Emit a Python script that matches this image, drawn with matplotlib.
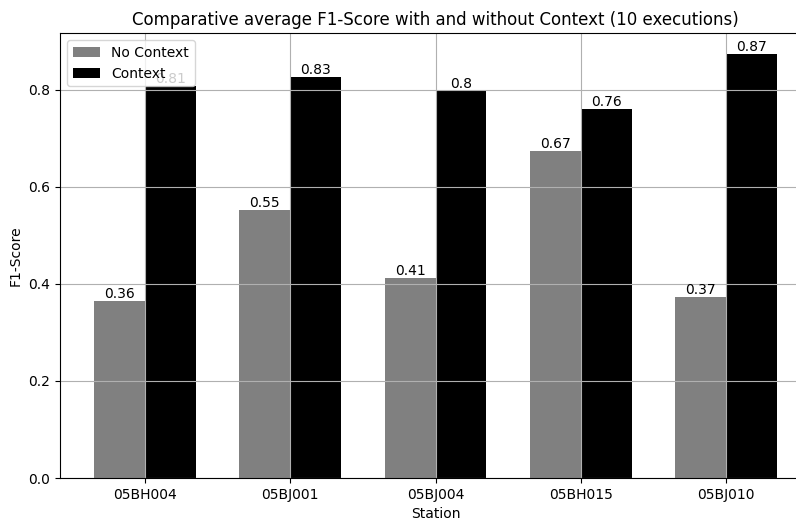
import numpy as np
import matplotlib.pyplot as plt

stations = ["05BH004", "05BJ001", "05BJ004", "05BH015", "05BJ010"]
no_context = [0.364, 0.553, 0.413, 0.673, 0.374]
context = [0.808, 0.826, 0.798, 0.761, 0.873]

x = np.arange(len(stations))
width = 0.35

fig, ax = plt.subplots(figsize=(7.96, 5.18), dpi=100)
# axes run a little past the right edge of the canvas
fig.subplots_adjust(left=0.0754, right=1.019, top=0.936, bottom=0.0772)

bars1 = ax.bar(x - width / 2, no_context, width, color="grey", label="No Context")
bars2 = ax.bar(x + width / 2, context, width, color="black", label="Context")

# value on top of each bar
for bars in (bars1, bars2):
    for b in bars:
        h = b.get_height()
        ax.text(b.get_x() + b.get_width() / 2, h, str(round(h, 2)),
                ha="center", va="bottom")

ax.set_xticks(x)
ax.set_xticklabels(stations)
ax.set_xlabel("Station")
ax.set_ylabel("F1-Score")
ax.set_title("Comparative average F1-Score with and without Context (10 executions)")
ax.grid(True)
ax.legend(loc="upper left")

plt.savefig("out.png", dpi=100)
